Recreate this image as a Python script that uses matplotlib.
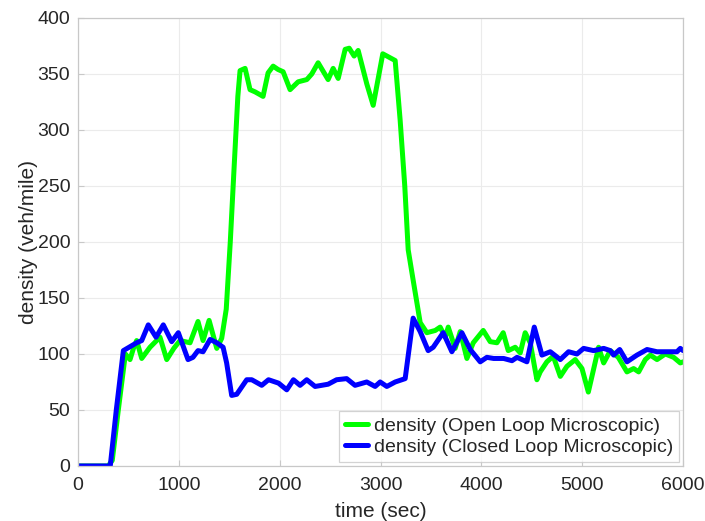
import matplotlib
matplotlib.use("Agg")
import matplotlib.pyplot as plt

open_t = [0, 300, 340, 400, 470, 516, 550, 582, 632, 714, 813, 880, 950, 1012, 1111, 1190, 1240, 1300, 1376, 1425,
          1470, 1510, 1550, 1585, 1607, 1657, 1706, 1756, 1835, 1885, 1935, 1984, 2034, 2103, 2183, 2269, 2318,
          2381, 2480, 2530, 2580, 2649, 2689, 2738, 2778, 2864, 2927, 3022, 3145, 3194, 3240, 3274, 3323, 3393,
          3459, 3542, 3591, 3641, 3671, 3740, 3790, 3856, 3919, 4018, 4087, 4154, 4216, 4266, 4335, 4385, 4434,
          4484, 4550, 4583, 4649, 4712, 4782, 4848, 4930, 4997, 5060, 5129, 5162, 5212, 5278, 5357, 5443, 5509,
          5559, 5625, 5675, 5741, 5823, 5906, 5972, 6000]
open_v = [0, 0, 5, 50, 100, 95, 105, 112, 96, 106, 115, 95, 105, 112, 110, 129, 112, 130, 105, 114,
          140, 200, 270, 330, 353, 355, 336, 334, 330, 351, 357, 354, 352, 336, 343, 345, 350,
          360, 345, 355, 346, 372, 373, 366, 371, 341, 322, 368, 362, 309, 250, 193, 166, 128,
          119, 121, 124, 115, 124, 105, 120, 96, 110, 121, 111, 110, 119, 103, 106, 101, 119,
          110, 77, 84, 93, 98, 80, 89, 95, 87, 66, 93, 106, 92, 103, 97, 84, 87,
          84, 95, 99, 95, 100, 97, 92, 93]

closed_t = [0, 320, 380, 450, 582, 632, 697, 774, 846, 929, 995, 1091, 1140, 1190, 1240, 1310, 1376, 1439, 1474,
            1524, 1574, 1673, 1723, 1822, 1889, 1988, 2070, 2136, 2202, 2268, 2351, 2480, 2564, 2664, 2747,
            2863, 2946, 2996, 3062, 3145, 3244, 3323, 3393, 3472, 3522, 3621, 3707, 3806, 3889, 3988, 4054,
            4121, 4220, 4303, 4353, 4451, 4524, 4600, 4683, 4782, 4864, 4947, 5013, 5112, 5212, 5278, 5311,
            5371, 5443, 5542, 5642, 5741, 5840, 5939, 5972, 6000]
closed_v = [0, 0, 50, 103, 110, 112, 126, 115, 126, 111, 119, 95, 97, 103, 102, 113, 110, 106, 92,
            63, 64, 77, 77, 72, 77, 74, 68, 77, 72, 77, 71, 73, 77, 78, 72,
            75, 71, 75, 71, 75, 78, 132, 120, 103, 106, 119, 102, 119, 104, 93, 97,
            96, 96, 94, 97, 93, 124, 99, 102, 95, 102, 100, 105, 103, 105, 103, 99,
            104, 93, 99, 104, 102, 102, 102, 105, 103]

xticks = [0, 1000, 2000, 3000, 4000, 5000, 6000]
yticks = [0, 50, 100, 150, 200, 250, 300, 350, 400]

plt.rcParams['font.family'] = ['Liberation Sans', 'DejaVu Sans']
fig = plt.figure(figsize=(7.05, 5.21), dpi=100)
ax = fig.add_axes([0.1106, 0.1056, 0.8584, 0.8599])

ax.plot(open_t, open_v, color='#00ff00', lw=3.6, label='density (Open Loop Microscopic)',
        solid_joinstyle='round', solid_capstyle='round')
ax.plot(closed_t, closed_v, color='#0000ff', lw=3.6, label='density (Closed Loop Microscopic)',
        solid_joinstyle='round', solid_capstyle='round')

ax.set_xlim(0, 6000)
ax.set_ylim(0, 400)
ax.set_xticks(xticks)
ax.set_yticks(yticks)
ax.grid(True, color='#ebebeb', lw=0.8)
ax.set_axisbelow(True)
for s in ax.spines.values():
    s.set_color('#c8c8c8')
    s.set_linewidth(0.9)
ax.tick_params(direction='in', length=4, color='#c8c8c8', labelsize=14, labelcolor='#262626', top=False, right=False)
ax.tick_params(axis='x', pad=8)
ax.tick_params(axis='y', pad=5.5)
ax.set_xlabel('time (sec)', fontsize=15, color='#262626', labelpad=6)
ax.set_ylabel('density (veh/mile)', fontsize=15, color='#262626', labelpad=0)

leg = ax.legend(loc='lower right', fontsize=14, frameon=True, fancybox=False, handlelength=1.2,
                handletextpad=0.3, borderpad=0.3, labelspacing=0.2, borderaxespad=0.2)
leg.get_frame().set_edgecolor('#c8c8c8')
leg.get_frame().set_linewidth(0.9)
for t in leg.get_texts():
    t.set_color('#262626')

fig.savefig('out.png', dpi=100)
